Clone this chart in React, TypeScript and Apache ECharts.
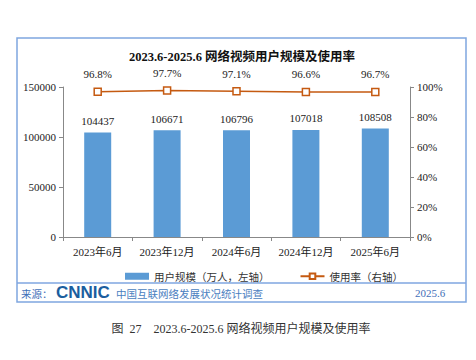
import React, { useEffect, useRef } from "react";
import * as echarts from "echarts";

const categories = ["2023年6月", "2023年12月", "2024年6月", "2024年12月", "2025年6月"];
const users = [104437, 106671, 106796, 107018, 108508];
const rates = [96.8, 97.7, 97.1, 96.6, 96.7];
const titleText = "2023.6-2025.6 网络视频用户规模及使用率";
const captionText = "图  27    2023.6-2025.6 网络视频用户规模及使用率";
const sourceLabel = "来源：";
const sourceOrg = "中国互联网络发展状况统计调查";
const sourceDate = "2025.6";

const SERIF = "'Liberation Serif', 'Times New Roman', 'Noto Sans CJK SC', serif";
const CJK = "'Noto Sans CJK SC', 'Liberation Serif', serif";

export default function App() {
  const ref = useRef<HTMLDivElement>(null);
  useEffect(() => {
    if (!ref.current) return;
    const chart = echarts.init(ref.current, null, { renderer: "svg" });
    chart.setOption({
      animation: false,
      backgroundColor: "#ffffff",
      title: {
        text: titleText,
        left: 237,
        top: 46,
        textAlign: "center",
        textStyle: { fontFamily: SERIF, fontWeight: "bold", fontSize: 12.5, color: "#111" },
      },
      grid: { left: 63, right: 66, top: 87, bottom: 123 },
      legend: {
        top: 266,
        left: 120,
        itemGap: 30,
        itemWidth: 24,
        itemHeight: 7,
        textStyle: { fontFamily: CJK, fontSize: 10.5, color: "#333" },
        data: [
          { name: "用户规模（万人，左轴）", icon: "rect" },
          { name: "使用率（右轴）" },
        ],
      },
      xAxis: {
        type: "category",
        data: categories,
        axisLine: { lineStyle: { color: "#888" } },
        axisTick: { show: true, length: 4, lineStyle: { color: "#888" } },
        axisLabel: { interval: 0, fontFamily: SERIF, fontSize: 11, color: "#222", margin: 9 },
      },
      yAxis: [
        {
          type: "value",
          min: 0,
          max: 150000,
          interval: 50000,
          axisLine: { show: true, lineStyle: { color: "#888" } },
          axisTick: { show: true, length: 4, lineStyle: { color: "#888" } },
          axisLabel: {
            fontFamily: SERIF,
            fontSize: 11,
            color: "#222",
            margin: 7,
            formatter: (v: number) => String(v),
          },
          splitLine: { show: false },
        },
        {
          type: "value",
          min: 0,
          max: 100,
          interval: 20,
          position: "right",
          axisLine: { show: true, lineStyle: { color: "#888" } },
          axisTick: { show: true, length: 4, lineStyle: { color: "#888" } },
          axisLabel: { fontFamily: SERIF, fontSize: 11, color: "#222", margin: 7, formatter: "{value}%" },
          splitLine: { show: false },
        },
      ],
      series: [
        {
          name: "用户规模（万人，左轴）",
          type: "bar",
          data: users,
          barWidth: 27,
          itemStyle: { color: "#5B9BD5" },
          label: {
            show: true,
            position: "top",
            distance: 6,
            fontFamily: SERIF,
            fontSize: 11,
            color: "#222",
          },
        },
        {
          name: "使用率（右轴）",
          type: "line",
          yAxisIndex: 1,
          data: rates,
          symbol: "rect",
          symbolSize: 7,
          lineStyle: { color: "#C55A11", width: 1.5 },
          itemStyle: { color: "#ffffff", borderColor: "#C55A11", borderWidth: 1.5 },
          label: {
            show: true,
            position: "top",
            distance: 8,
            fontFamily: SERIF,
            fontSize: 11,
            color: "#222",
            formatter: "{c}%",
          },
        },
      ],
      graphic: [
        {
          type: "rect",
          shape: { x: 17, y: 38, width: 449, height: 264 },
          style: { fill: "none", stroke: "#7FA6E0", lineWidth: 1.5 },
          silent: true,
        },
        {
          type: "line",
          shape: { x1: 17, y1: 283, x2: 466, y2: 283 },
          style: { stroke: "#7FA6E0", lineWidth: 1.5 },
          silent: true,
        },
        {
          type: "text",
          x: 21,
          y: 293,
          style: { text: sourceLabel, fontFamily: CJK, fontSize: 10.5, fill: "#3F6FB8", verticalAlign: "middle" },
        },
        {
          type: "text",
          x: 56,
          y: 292,
          style: {
            text: "CNNIC",
            fontFamily: "'Liberation Sans', Arial, sans-serif",
            fontWeight: 900,
            fontSize: 17,
            fill: "#1B5E9E",
            verticalAlign: "middle",
          },
        },
        {
          type: "text",
          x: 116,
          y: 293,
          style: { text: sourceOrg, fontFamily: CJK, fontSize: 10.5, fill: "#4A7EC0", verticalAlign: "middle" },
        },
        {
          type: "text",
          x: 415,
          y: 293,
          style: { text: sourceDate, fontFamily: SERIF, fontSize: 11, fill: "#3F6FB8", verticalAlign: "middle" },
        },
        {
          type: "text",
          x: 241,
          y: 329,
          style: {
            text: captionText,
            fontFamily: SERIF,
            fontSize: 12,
            fill: "#333",
            align: "center",
            verticalAlign: "middle",
          },
        },
      ],
    });
    return () => chart.dispose();
  }, []);
  return (
    <div
      ref={ref}
      style={{ position: "fixed", left: 0, top: 0, width: 476, height: 360 }}
    />
  );
}
